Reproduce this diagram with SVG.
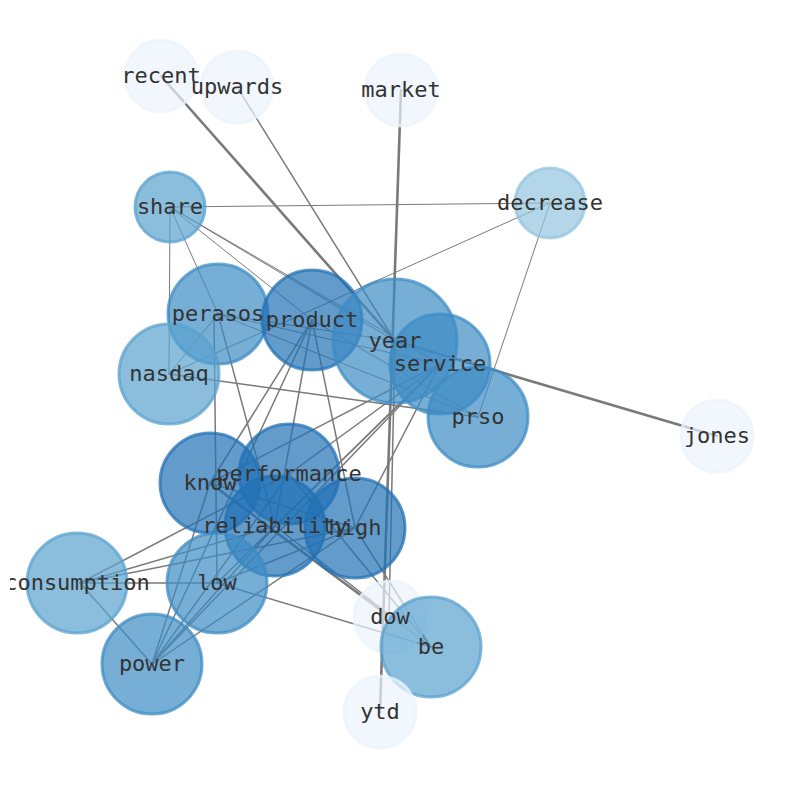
<svg xmlns="http://www.w3.org/2000/svg" width="794" height="790" viewBox="0 0 794 790">
<defs>
<style>
.e{stroke:#7a7a7a;fill:none;stroke-linecap:round}
.w1{stroke-width:1}
.w2{stroke-width:1.5}
.w3{stroke-width:2.6}
.n{stroke-width:3;fill-opacity:0.7;stroke-opacity:0.75}
.dk{fill:#2171b5;stroke:#2171b5}
.md{fill:#3d8cc4;stroke:#3d8cc4}
.lt{fill:#5aa2cf;stroke:#5aa2cf}
.xl{fill:#93c4df;stroke:#93c4df}
.wh{fill:#ebf3fb;stroke:#ebf3fb}
text{font-family:"DejaVu Sans Mono","Liberation Mono",monospace;font-size:22px;fill:#333;text-anchor:middle}
</style>
<clipPath id="clip"><rect x="10" y="0" width="784" height="790"/></clipPath>
</defs>
<rect width="794" height="790" fill="#fff"/>
<g id="edges">
<line class="e w3" x1="161" y1="76" x2="395" y2="341"/>
<line class="e w2" x1="237" y1="87" x2="395" y2="341"/>
<line class="e w3" x1="401" y1="90" x2="380" y2="712"/>
<line class="e w3" x1="395" y1="341" x2="717" y2="436"/>
<line class="e w2" x1="395" y1="341" x2="389" y2="617"/>
<line class="e w3" x1="210" y1="483" x2="390" y2="617"/>
<line class="e w1" x1="170" y1="207" x2="550" y2="203"/>
<line class="e w1" x1="170" y1="207" x2="169" y2="374"/>
<line class="e w1" x1="170" y1="207" x2="218" y2="314"/>
<line class="e w1" x1="170" y1="207" x2="312" y2="320"/>
<line class="e w1" x1="170" y1="207" x2="395" y2="341"/>
<line class="e w1" x1="170" y1="207" x2="440" y2="364"/>
<line class="e w1" x1="550" y1="203" x2="169" y2="374"/>
<line class="e w1" x1="550" y1="203" x2="478" y2="417"/>
<line class="e w1" x1="169" y1="374" x2="218" y2="314"/>
<line class="e w2" x1="169" y1="374" x2="478" y2="417"/>
<line class="e w1" x1="218" y1="314" x2="395" y2="341"/>
<line class="e w1" x1="218" y1="314" x2="440" y2="364"/>
<line class="e w1" x1="218" y1="314" x2="478" y2="417"/>
<line class="e w2" x1="218" y1="314" x2="275" y2="526"/>
<line class="e w2" x1="214" y1="314" x2="217" y2="583"/>
<line class="e w2" x1="312" y1="320" x2="210" y2="483"/>
<line class="e w2" x1="312" y1="320" x2="275" y2="526"/>
<line class="e w2" x1="312" y1="320" x2="355" y2="528"/>
<line class="e w1" x1="312" y1="320" x2="478" y2="417"/>
<line class="e w2" x1="312" y1="320" x2="152" y2="664"/>
<line class="e w2" x1="210" y1="483" x2="355" y2="528"/>
<line class="e w2" x1="210" y1="483" x2="440" y2="364"/>
<line class="e w2" x1="210" y1="483" x2="152" y2="664"/>
<line class="e w2" x1="289" y1="474" x2="440" y2="364"/>
<line class="e w2" x1="289" y1="474" x2="431" y2="647"/>
<line class="e w2" x1="289" y1="474" x2="80" y2="583"/>
<line class="e w2" x1="275" y1="526" x2="440" y2="364"/>
<line class="e w2" x1="275" y1="526" x2="431" y2="647"/>
<line class="e w2" x1="275" y1="526" x2="80" y2="583"/>
<line class="e w2" x1="355" y1="528" x2="440" y2="364"/>
<line class="e w2" x1="355" y1="528" x2="431" y2="647"/>
<line class="e w2" x1="355" y1="528" x2="80" y2="583"/>
<line class="e w2" x1="355" y1="528" x2="152" y2="664"/>
<line class="e w2" x1="80" y1="583" x2="217" y2="583"/>
<line class="e w2" x1="80" y1="583" x2="152" y2="664"/>
<line class="e w2" x1="217" y1="583" x2="431" y2="647"/>
<line class="e w2" x1="217" y1="583" x2="440" y2="364"/>
<line class="e w2" x1="217" y1="583" x2="355" y2="528"/>
<line class="e w2" x1="152" y1="664" x2="440" y2="364"/>
<line class="e w2" x1="152" y1="664" x2="275" y2="526"/>
<line class="e w2" x1="152" y1="664" x2="289" y2="474"/>
</g>
<g id="nodes">
<g id="n-recent"><circle class="n wh" cx="161" cy="76" r="36"/></g>
<g id="n-upwards"><circle class="n wh" cx="237" cy="87" r="36"/></g>
<g id="n-market"><circle class="n wh" cx="401" cy="90" r="36"/></g>
<g id="n-share"><circle class="n lt" cx="170" cy="207" r="35"/></g>
<g id="n-decrease"><circle class="n xl" cx="550" cy="203" r="35"/></g>
<g id="n-perasos"><circle class="n md" cx="218" cy="314" r="50"/></g>
<g id="n-product"><circle class="n dk" cx="312" cy="320" r="50"/></g>
<g id="n-year"><circle class="n md" cx="395" cy="341" r="62"/></g>
<g id="n-service"><circle class="n md" cx="440" cy="364" r="50"/></g>
<g id="n-nasdaq"><circle class="n lt" cx="169" cy="374" r="50"/></g>
<g id="n-prso"><circle class="n md" cx="478" cy="417" r="50"/></g>
<g id="n-jones"><circle class="n wh" cx="717" cy="436" r="36"/></g>
<g id="n-know"><circle class="n dk" cx="210" cy="483" r="50"/></g>
<g id="n-performance"><circle class="n dk" cx="289" cy="474" r="50"/></g>
<g id="n-reliability"><circle class="n dk" cx="275" cy="526" r="50"/></g>
<g id="n-high"><circle class="n dk" cx="355" cy="528" r="50"/></g>
<g id="n-consumption"><circle class="n lt" cx="77" cy="583" r="50"/></g>
<g id="n-low"><circle class="n md" cx="217" cy="583" r="50"/></g>
<g id="n-dow"><circle class="n wh" cx="390" cy="617" r="36"/></g>
<g id="n-be"><circle class="n lt" cx="431" cy="647" r="50"/></g>
<g id="n-power"><circle class="n md" cx="152" cy="664" r="50"/></g>
<g id="n-ytd"><circle class="n wh" cx="380" cy="712" r="36"/></g>
</g>
<g id="labels" clip-path="url(#clip)">
<text x="161" y="83">recent</text>
<text x="237" y="94">upwards</text>
<text x="401" y="97">market</text>
<text x="170" y="214">share</text>
<text x="550" y="210">decrease</text>
<text x="218" y="321">perasos</text>
<text x="312" y="327">product</text>
<text x="395" y="348">year</text>
<text x="440" y="371">service</text>
<text x="169" y="381">nasdaq</text>
<text x="478" y="424">prso</text>
<text x="717" y="443">jones</text>
<text x="210" y="490">know</text>
<text x="289" y="481">performance</text>
<text x="275" y="533">reliability</text>
<text x="355" y="535">high</text>
<text x="77" y="590">consumption</text>
<text x="217" y="590">low</text>
<text x="390" y="624">dow</text>
<text x="431" y="654">be</text>
<text x="152" y="671">power</text>
<text x="380" y="719">ytd</text>
</g>
</svg>
